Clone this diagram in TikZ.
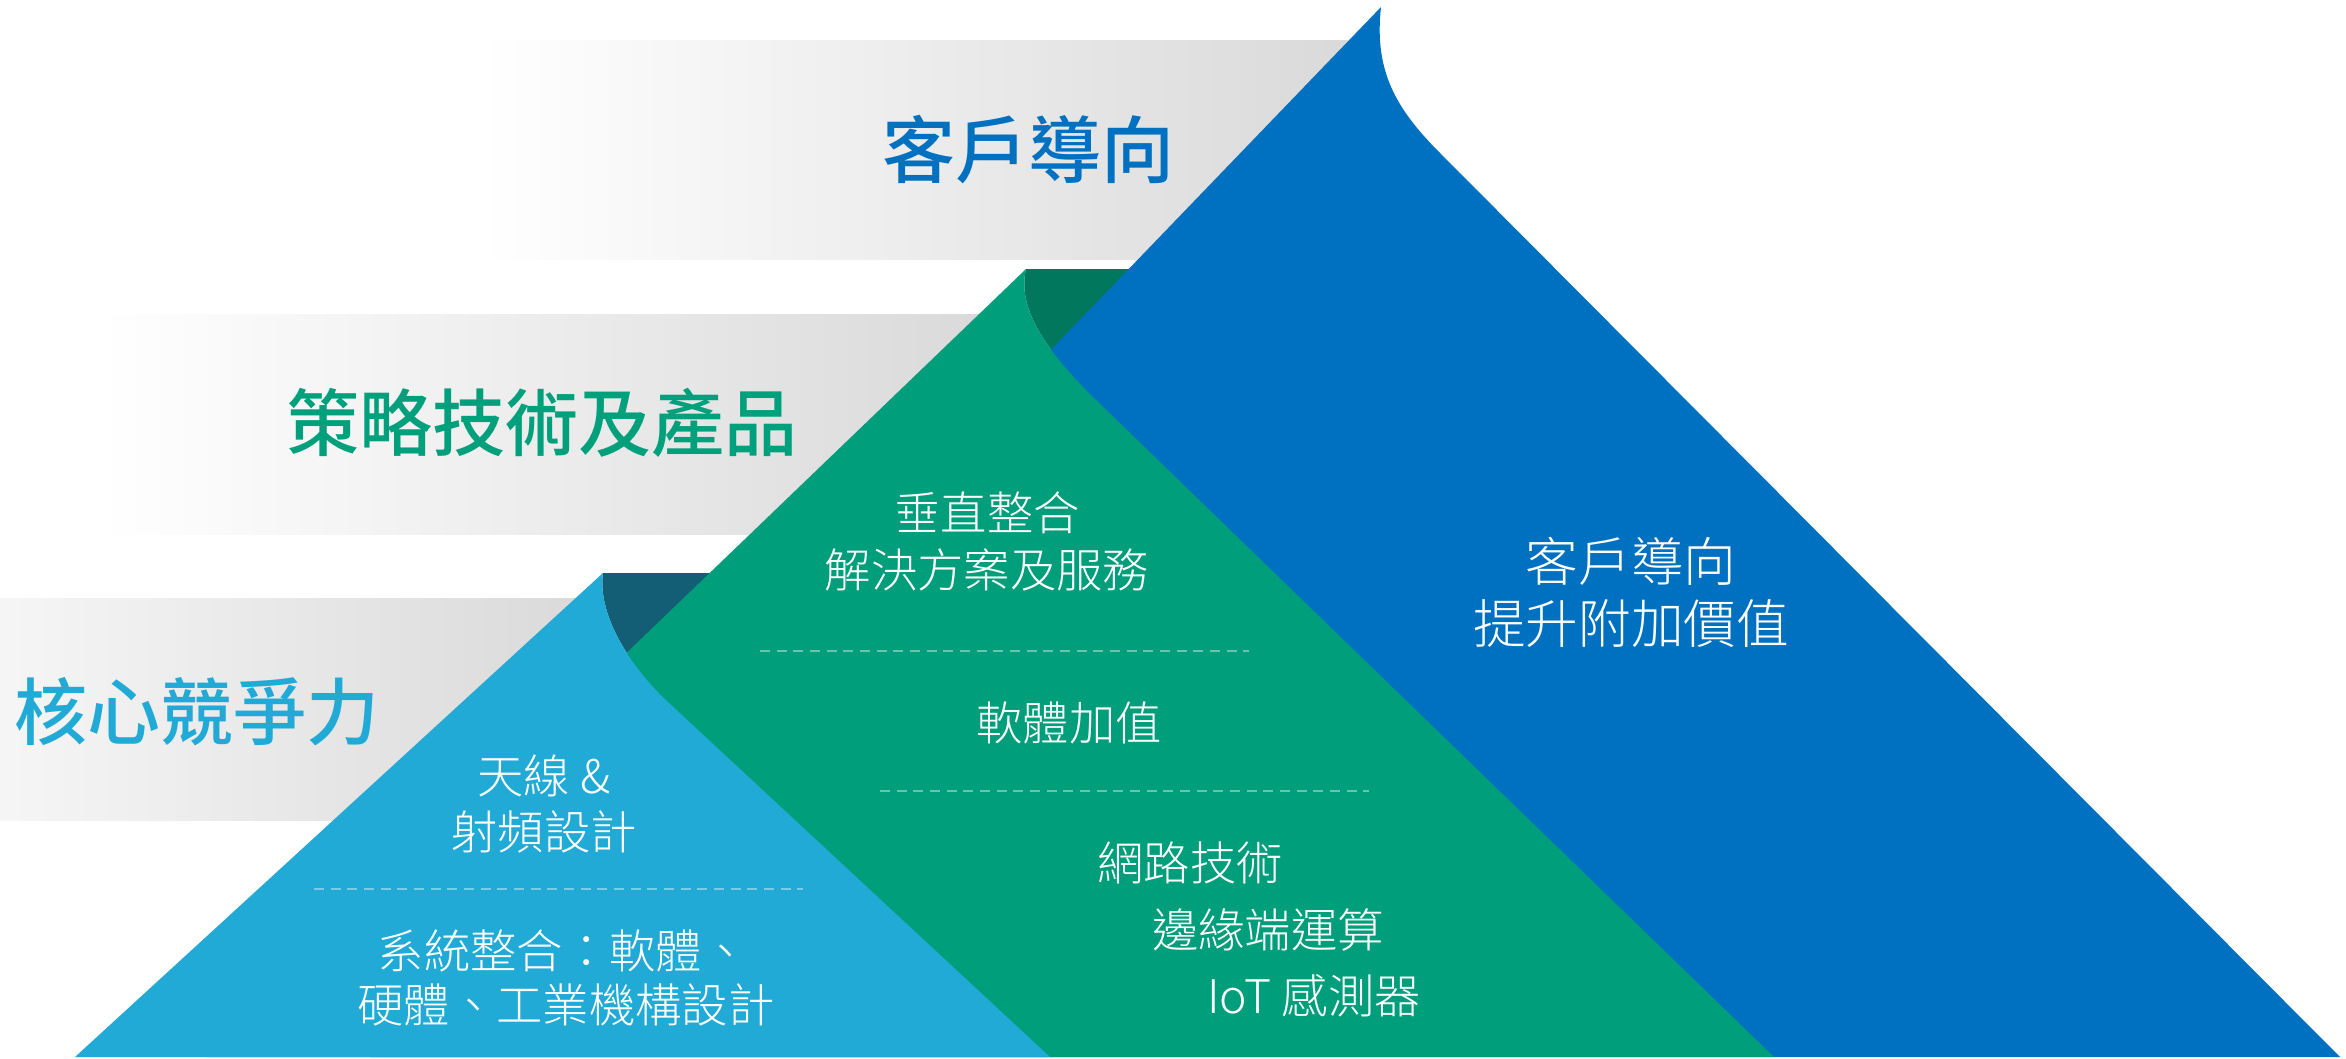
\documentclass[tikz,border=0pt]{standalone}
\usepackage{fontspec}
\newfontfamily\cjk{Noto Sans CJK TC}
\IfFontExistsTF{Noto Sans CJK TC Light}{\newfontfamily\cjkl{Noto Sans CJK TC Light}}{\newfontfamily\cjkl{Noto Sans CJK TC}}
\IfFontExistsTF{Noto Sans CJK TC Medium}{\newfontfamily\cjkm{Noto Sans CJK TC Medium}}{\newfontfamily\cjkm{Noto Sans CJK TC}[BoldFont=*]}
\definecolor{cBlue}{HTML}{0070C0}
\definecolor{cGreen}{HTML}{009E7B}
\definecolor{cDkGreen}{HTML}{01775E}
\definecolor{cCyan}{HTML}{21AAD6}
\definecolor{cDkTeal}{HTML}{135E74}
\definecolor{hGreen}{HTML}{00A07C}
\definecolor{bandgray}{HTML}{D9D9D9}
\begin{document}
\begin{tikzpicture}[x=0.3pt,y=-0.3pt,
  band/.style={left color=white,right color=bandgray},
  body/.style={text=white,inner sep=0,font=\cjkl\fontsize{13.9}{16}\selectfont},
  bodybig/.style={text=white,inner sep=0,font=\cjkl\fontsize{15.8}{18}\selectfont},
  head/.style={inner sep=0,font=\cjkm\fontsize{21.9}{24}\selectfont},
  sep/.style={white,opacity=0.4,line width=0.6pt,dash pattern=on 3pt off 2pt}]
\useasboundingbox (0,0) rectangle (2346,1058);
% gray bands
\fill[band] (480,40) rectangle (1360,259);
\fill[band] (100,314) rectangle (1000,534);
\fill[band] (-200,598) rectangle (600,820);
% dark fold of green
\fill[cDkGreen] (1026,269) -- (1300,269) -- (1200,420) -- (1096,400)
  .. controls (1050,355) and (1016,310) .. (1026,269) -- cycle;
% blue
\fill[cBlue] (1381,7) .. controls (1374,70) and (1395,108) .. (1440,153)
  -- (2340,1057) -- (370,1057) -- cycle;
% dark fold of cyan
\fill[cDkTeal] (603,573) -- (760,573) -- (780,700) -- (669,703)
  .. controls (631,668) and (597,615) .. (603,573) -- cycle;
% green
\fill[cGreen] (1026,269) .. controls (1016,310) and (1050,355) .. (1096,400)
  -- (1774,1057) -- (206,1057) -- cycle;
% cyan
\fill[cCyan] (603,573) .. controls (597,615) and (631,668) .. (669,703)
  -- (1050,1057) -- (75,1057) -- cycle;
% headings
\node[head,text=cBlue] (h1) at (1028,150) {客戶導向};
\node[head,text=hGreen] (h2) at (542,423) {策略技術及產品};
\node[head,text=cCyan] (h3) at (197,712) {核心競爭力};
% blue text
\node[bodybig] (b1) at (1631,561) {客戶導向};
\node[bodybig] (b2) at (1631,624) {提升附加價值};
% green text
\node[body] (g1) at (987,513) {垂直整合};
\node[body] (g2) at (987,570) {解決方案及服務};
\coordinate (d1a) at (760,651); \coordinate (d1b) at (1249,651);
\draw[sep] (d1a) -- (d1b);
\node[body] (g3) at (1069,723) {軟體加值};
\coordinate (d2a) at (880,791); \coordinate (d2b) at (1369,791);
\draw[sep] (d2a) -- (d2b);
\node[body] (g4) at (1190,863) {網路技術};
\node[body] (g5) at (1268,930) {邊緣端運算};
\node[body] (g6) at (1314,996) {IoT 感測器};
% cyan text
\node[body] (c1) at (544,776) {天線 \&};
\node[body] (c2) at (544,832) {射頻設計};
\coordinate (d3a) at (314,889); \coordinate (d3b) at (803,889);
\draw[sep] (d3a) -- (d3b);
\node[body] (c3) at (563,951) {系統整合：軟體、};
\node[body] (c4) at (566,1005) {硬體、工業機構設計};
\end{tikzpicture}
\end{document}
